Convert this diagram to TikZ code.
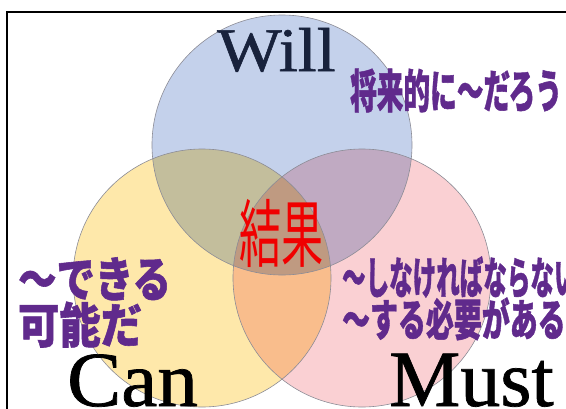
\documentclass[tikz,border=0pt]{standalone}
\usepackage{fontspec}
\setmainfont{Liberation Serif}
\newfontfamily\enfont{Liberation Serif}[FakeBold=0.9]
\newfontfamily\jpfont{Noto Sans CJK JP}[BoldFeatures={FakeBold=1.2}]
\definecolor{willblue}{RGB}{196,209,235}
\definecolor{canyellow}{RGB}{254,232,170}
\definecolor{mustpink}{RGB}{250,208,211}
\definecolor{edgegrey}{RGB}{140,140,150}
\definecolor{jppurple}{RGB}{96,42,140}
\definecolor{willnavy}{RGB}{24,34,60}
\definecolor{resultred}{RGB}{240,0,0}
\begin{document}
\begin{tikzpicture}[x=1pt,y=-1pt,
  ring/.style={draw=edgegrey, line width=0.6pt},
  jp/.style={font=\jpfont\bfseries\fontsize{46}{46}\selectfont, text=jppurple, inner sep=0pt, anchor=base west},
  en/.style={inner sep=0pt, anchor=base west}]
\useasboundingbox (0,0) rectangle (566,408);
\clip (0,0) rectangle (566,408);
\fill[white] (0,0) rectangle (566,408);
\coordinate (W) at (282,145);
\coordinate (C) at (202,278);
\coordinate (M) at (362,278);
\begin{scope}[blend mode=multiply]
  \fill[willblue] (W) circle (130);
  \fill[canyellow] (C) circle (129);
  \fill[mustpink] (M) circle (129);
\end{scope}
\draw[ring] (W) circle (130) (C) circle (129) (M) circle (129);
\draw[black, line width=2pt] (7,12) rectangle (575,420);
\node[en, text=willnavy, font=\enfont\fontsize{62}{62}\selectfont, xscale=1.1] (will) at (217,71) {Will};
\node[jp, xscale=0.58] (willdesc) at (350,108) {将来的に〜だろう};
\node[jp, font=\jpfont\bfseries\fontsize{48}{48}\selectfont, xscale=0.8] (can1) at (18,297) {〜できる};
\node[jp, font=\jpfont\bfseries\fontsize{48}{48}\selectfont, xscale=0.86] (can2) at (18,343) {可能だ};
\node[jp, font=\jpfont\bfseries\fontsize{44}{44}\selectfont, xscale=0.535] (must1) at (342,294) {〜しなければならない};
\node[jp, font=\jpfont\bfseries\fontsize{44}{44}\selectfont, xscale=0.635] (must2) at (342,336) {〜する必要がある};
\node[font=\jpfont\fontsize{74}{74}\selectfont, text=resultred, inner sep=0pt, anchor=base west, xscale=0.57] (result) at (239,261) {結果};
\node[en, text=black, font=\enfont\fontsize{78}{78}\selectfont, xscale=1.04] (can) at (67,406) {Can};
\node[en, text=black, font=\enfont\fontsize{80}{80}\selectfont, xscale=1.0] (must) at (389,406) {Must};
\end{tikzpicture}
\end{document}
